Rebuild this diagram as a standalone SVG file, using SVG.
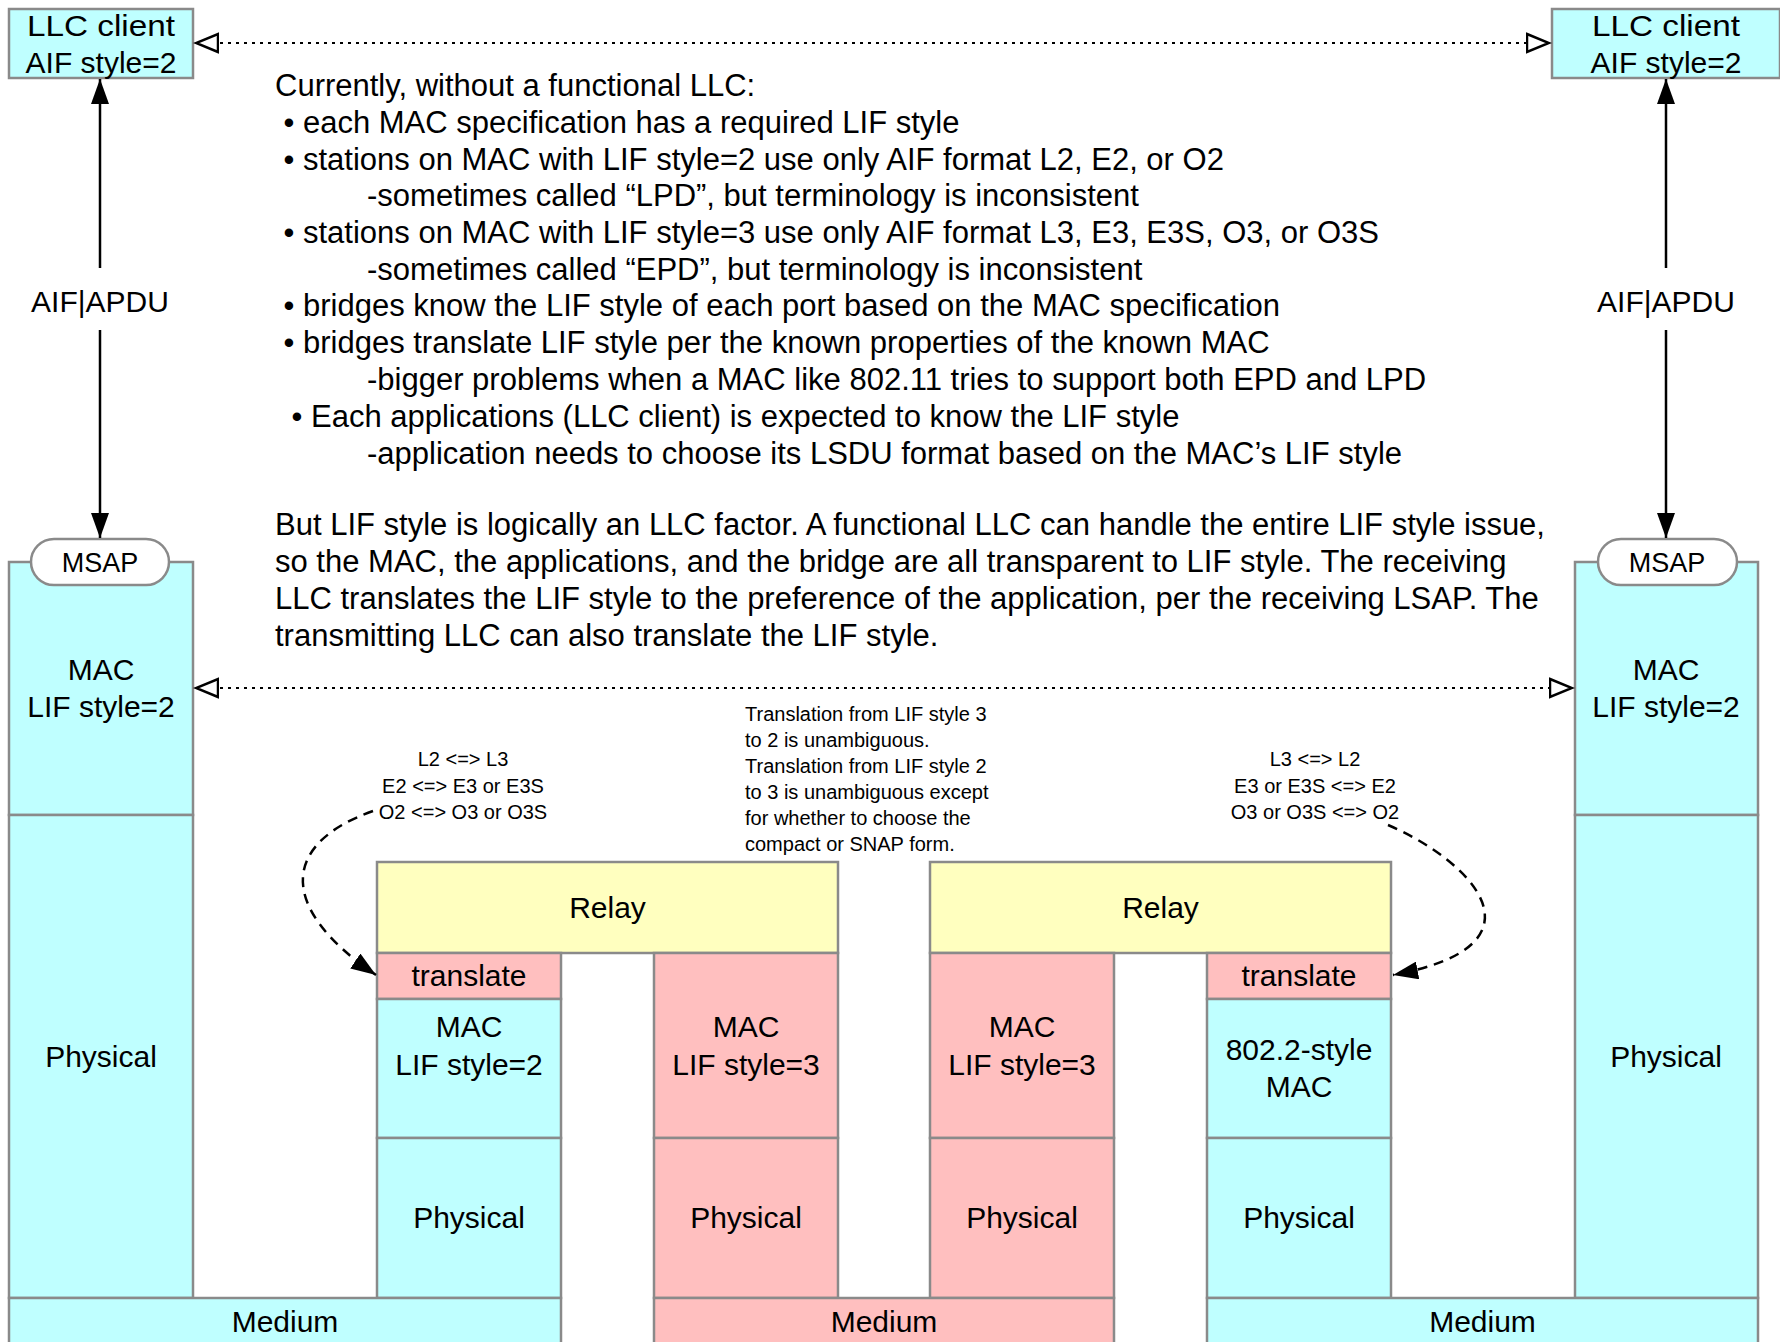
<svg xmlns="http://www.w3.org/2000/svg" width="1780" height="1342" viewBox="0 0 1780 1342">
<style>
text{font-family:"Liberation Sans",Arial,Helvetica,sans-serif;fill:#000}
.box{stroke:#8a8a8a;stroke-width:2.5}
.cy{fill:#BFFFFF}
.pk{fill:#FFBFBF}
.yl{fill:#FFFFBF}
.lbl{font-size:30px;text-anchor:middle}
.body{font-size:31px}
.small{font-size:20px}
.smc{font-size:20px;text-anchor:middle}
.dot{fill:none;stroke:#000;stroke-width:2.2;stroke-dasharray:3 5}
.solid{fill:none;stroke:#000;stroke-width:2.5}
.dash{fill:none;stroke:#000;stroke-width:2.5;stroke-dasharray:10 7}
</style>
<defs>
<marker id="open" markerUnits="userSpaceOnUse" markerWidth="26" markerHeight="22" refX="23" refY="10" orient="auto-start-reverse" viewBox="0 0 26 20">
<path d="M1,1 L23,10 L1,19 z" fill="#fff" stroke="#000" stroke-width="2.5"/>
</marker>
<marker id="fill" markerUnits="userSpaceOnUse" markerWidth="26" markerHeight="18" refX="25" refY="9" orient="auto-start-reverse" viewBox="0 0 26 18">
<path d="M0,0 L25,9 L0,18 z" fill="#000"/>
</marker>
</defs>
<rect width="1780" height="1342" fill="#fff"/>

<g id="llc-left"><rect class="box cy" x="9" y="9" width="184" height="69"/><text class="lbl" x="101" y="36" textLength="148" lengthAdjust="spacingAndGlyphs">LLC client</text><text class="lbl" x="101" y="73">AIF style=2</text></g>
<g id="llc-right"><rect class="box cy" x="1552" y="9" width="228" height="69"/><text class="lbl" x="1666" y="36" textLength="148" lengthAdjust="spacingAndGlyphs">LLC client</text><text class="lbl" x="1666" y="73">AIF style=2</text></g>

<g id="col-left">
<rect class="box cy" x="9" y="562" width="184" height="253"/><text class="lbl" x="101" y="680">MAC</text><text class="lbl" x="101" y="717">LIF style=2</text>
<rect class="box cy" x="9" y="815" width="184" height="483"/><text class="lbl" x="101" y="1067">Physical</text>
</g>
<g id="msap-left"><rect class="box" fill="#fff" x="31" y="539" width="138" height="46" rx="23"/><text x="100" y="572" font-size="27" text-anchor="middle">MSAP</text></g>

<g id="col-right">
<rect class="box cy" x="1575" y="562" width="183" height="253"/><text class="lbl" x="1666" y="680">MAC</text><text class="lbl" x="1666" y="717">LIF style=2</text>
<rect class="box cy" x="1575" y="815" width="183" height="483"/><text class="lbl" x="1666" y="1067">Physical</text>
</g>
<g id="msap-right"><rect class="box" fill="#fff" x="1598" y="539" width="139" height="46" rx="23"/><text x="1667" y="572" font-size="27" text-anchor="middle">MSAP</text></g>

<g id="bridge-1">
<rect class="box yl" x="377" y="862" width="461" height="91"/><text class="lbl" x="607.5" y="918">Relay</text>
<rect class="box pk" x="377" y="953" width="184" height="46"/><text class="lbl" x="469" y="986">translate</text>
<rect class="box cy" x="377" y="999" width="184" height="139"/><text class="lbl" x="469" y="1037">MAC</text><text class="lbl" x="469" y="1075">LIF style=2</text>
<rect class="box cy" x="377" y="1138" width="184" height="160"/><text class="lbl" x="469" y="1228">Physical</text>
<rect class="box pk" x="654" y="953" width="184" height="185"/><text class="lbl" x="746" y="1037">MAC</text><text class="lbl" x="746" y="1075">LIF style=3</text>
<rect class="box pk" x="654" y="1138" width="184" height="160"/><text class="lbl" x="746" y="1228">Physical</text>
</g>

<g id="bridge-2">
<rect class="box yl" x="930" y="862" width="461" height="91"/><text class="lbl" x="1160.5" y="918">Relay</text>
<rect class="box pk" x="930" y="953" width="184" height="185"/><text class="lbl" x="1022" y="1037">MAC</text><text class="lbl" x="1022" y="1075">LIF style=3</text>
<rect class="box pk" x="930" y="1138" width="184" height="160"/><text class="lbl" x="1022" y="1228">Physical</text>
<rect class="box pk" x="1207" y="953" width="184" height="46"/><text class="lbl" x="1299" y="986">translate</text>
<rect class="box cy" x="1207" y="999" width="184" height="139"/><text class="lbl" x="1299" y="1060">802.2-style</text><text class="lbl" x="1299" y="1097">MAC</text>
<rect class="box cy" x="1207" y="1138" width="184" height="160"/><text class="lbl" x="1299" y="1228">Physical</text>
</g>

<g id="medium-left"><rect class="box cy" x="9" y="1298" width="552" height="60"/><text class="lbl" x="285" y="1332">Medium</text></g>
<g id="medium-mid"><rect class="box pk" x="654" y="1298" width="460" height="60"/><text class="lbl" x="884" y="1332">Medium</text></g>
<g id="medium-right"><rect class="box cy" x="1207" y="1298" width="551" height="60"/><text class="lbl" x="1482.5" y="1332">Medium</text></g>

<g id="connectors">
<line class="dot" x1="196" y1="43" x2="1549" y2="43" marker-start="url(#open)" marker-end="url(#open)"/>
<line class="dot" x1="196" y1="688" x2="1572" y2="688" marker-start="url(#open)" marker-end="url(#open)"/>
<line class="solid" x1="100" y1="79" x2="100" y2="268" marker-start="url(#fill)"/>
<line class="solid" x1="100" y1="330" x2="100" y2="538" marker-end="url(#fill)"/>
<line class="solid" x1="1666" y1="79" x2="1666" y2="268" marker-start="url(#fill)"/>
<line class="solid" x1="1666" y1="330" x2="1666" y2="538" marker-end="url(#fill)"/>
<path class="dash" d="M373,811 C285,842 273,905 376,975" marker-end="url(#fill)"/>
<path class="dash" d="M1388,825 C1470,860 1555,945 1393,975" marker-end="url(#fill)"/>
</g>

<g id="labels">
<text class="lbl" x="100" y="312">AIF|APDU</text>
<text class="lbl" x="1666" y="312">AIF|APDU</text>
<text class="smc" x="463" y="766">L2 &lt;=&gt; L3</text>
<text class="smc" x="463" y="793">E2 &lt;=&gt; E3 or E3S</text>
<text class="smc" x="463" y="819">O2 &lt;=&gt; O3 or O3S</text>
<text class="smc" x="1315" y="766">L3 &lt;=&gt; L2</text>
<text class="smc" x="1315" y="793">E3 or E3S &lt;=&gt; E2</text>
<text class="smc" x="1315" y="819">O3 or O3S &lt;=&gt; O2</text>
<text class="small" x="745" y="721">Translation from LIF style 3</text>
<text class="small" x="745" y="747">to 2 is unambiguous.</text>
<text class="small" x="745" y="773">Translation from LIF style 2</text>
<text class="small" x="745" y="799">to 3 is unambiguous except</text>
<text class="small" x="745" y="825">for whether to choose the</text>
<text class="small" x="745" y="851">compact or SNAP form.</text>
</g>

<g id="notes" class="body">
<text class="body" x="275" y="96">Currently, without a functional LLC:</text>
<text class="body" x="283.5" y="133">• each MAC specification has a required LIF style</text>
<text class="body" x="283.5" y="170">• stations on MAC with LIF style=2 use only AIF format L2, E2, or O2</text>
<text class="body" x="367" y="206">-sometimes called “LPD”, but terminology is inconsistent</text>
<text class="body" x="283.5" y="243">• stations on MAC with LIF style=3 use only AIF format L3, E3, E3S, O3, or O3S</text>
<text class="body" x="367" y="280">-sometimes called “EPD”, but terminology is inconsistent</text>
<text class="body" x="283.5" y="316">• bridges know the LIF style of each port based on the MAC specification</text>
<text class="body" x="283.5" y="353">• bridges translate LIF style per the known properties of the known MAC</text>
<text class="body" x="367" y="390">-bigger problems when a MAC like 802.11 tries to support both EPD and LPD</text>
<text class="body" x="291.5" y="427">• Each applications (LLC client) is expected to know the LIF style</text>
<text class="body" x="367" y="464">-application needs to choose its LSDU format based on the MAC’s LIF style</text>
<text class="body" x="275" y="535">But LIF style is logically an LLC factor. A functional LLC can handle the entire LIF style issue,</text>
<text class="body" x="275" y="572">so the MAC, the applications, and the bridge are all transparent to LIF style. The receiving</text>
<text class="body" x="275" y="609">LLC translates the LIF style to the preference of the application, per the receiving LSAP. The</text>
<text class="body" x="275" y="646">transmitting LLC can also translate the LIF style.</text>
</g>
</svg>
